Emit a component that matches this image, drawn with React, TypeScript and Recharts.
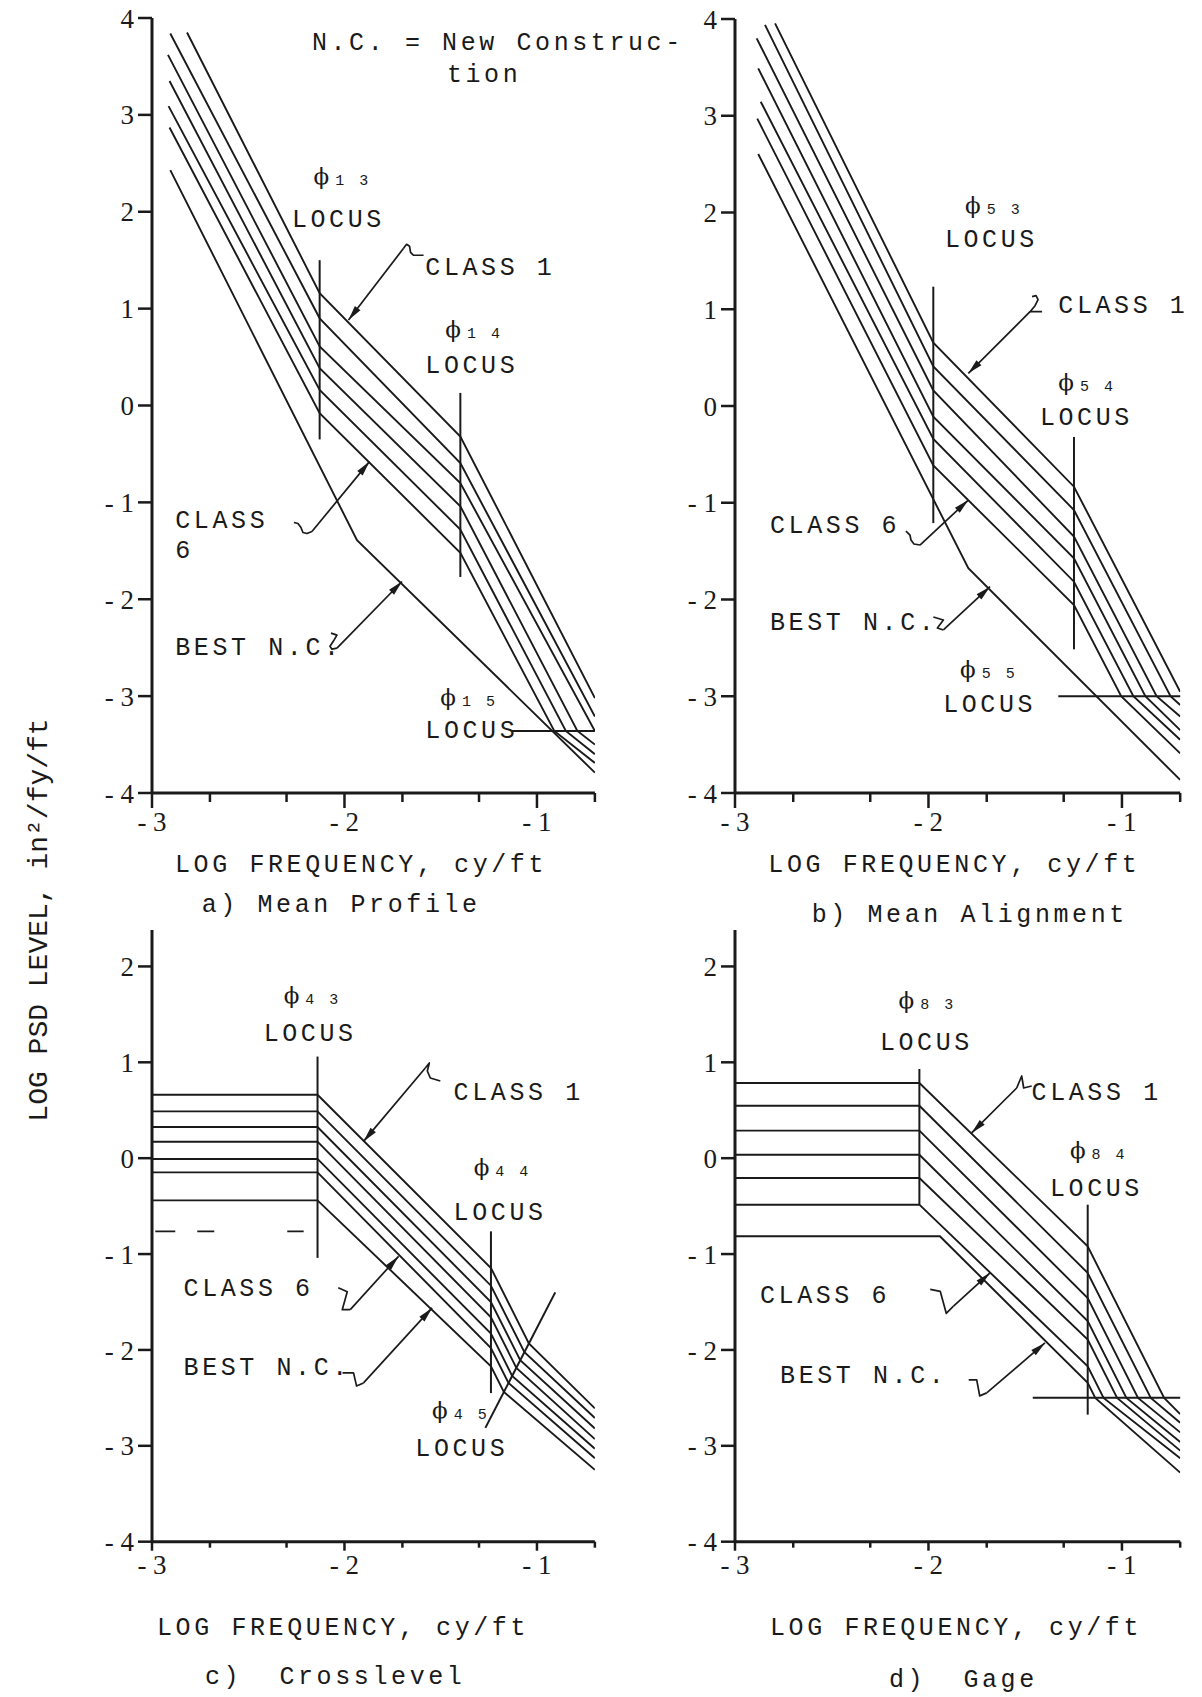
import React from 'react';
import { LineChart, Line, XAxis, YAxis, ReferenceLine, ReferenceDot } from 'recharts';

type P = [number, number];
type Note = { at: P; text: string; phi?: boolean };
type Arrow = { from: P; to: P; hook: P[] };

const ink = '#1a1a1a';
const mono = '"Liberation Mono", monospace';
const serif = '"Liberation Serif", serif';

// log10 of 0.001 .. 0.2 cy/ft
const xTicks = [-3, -2.699, -2.301, -2, -1.699, -1.301, -1, -0.699];
const yTicksUpper = [-4, -3, -2, -1, 0, 1, 2, 3, 4];
const yTicksLower = [-4, -3, -2, -1, 0, 1, 2];

// ---- a) Mean Profile ----
const profileClasses: P[][] = [
  [[-2.818, 3.85], [-2.129, 1.16], [-1.398, -0.32], [-0.699, -3.02]],
  [[-2.905, 3.84], [-2.129, 0.9], [-1.398, -0.595], [-0.699, -3.21]],
  [[-2.917, 3.62], [-2.129, 0.61], [-1.398, -0.8], [-0.699, -3.36]],
  [[-2.909, 3.35], [-2.129, 0.385], [-1.398, -1.04], [-0.79, -3.36], [-0.699, -3.5]],
  [[-2.914, 3.09], [-2.129, 0.16], [-1.398, -1.28], [-0.85, -3.36], [-0.699, -3.6]],
  [[-2.909, 2.87], [-2.129, -0.08], [-1.398, -1.52], [-0.91, -3.36], [-0.699, -3.69]],
];
const profileBest: P[] = [[-2.905, 2.43], [-1.935, -1.39], [-0.699, -3.79]];
const profileLoci: P[][] = [
  [[-2.129, 1.5], [-2.129, -0.35]],
  [[-1.398, 0.13], [-1.398, -1.77]],
  [[-1.13, -3.36], [-0.699, -3.36]],
];

// ---- b) Mean Alignment ----
const alignClasses: P[][] = [
  [[-2.793, 3.955], [-1.975, 0.655], [-1.248, -0.834], [-0.699, -2.953]],
  [[-2.845, 3.94], [-1.975, 0.41], [-1.248, -1.075], [-0.749, -3.0], [-0.699, -3.09]],
  [[-2.888, 3.8], [-1.975, 0.16], [-1.248, -1.35], [-0.821, -3.0], [-0.699, -3.21]],
  [[-2.88, 3.49], [-1.975, -0.11], [-1.248, -1.574], [-0.879, -3.0], [-0.699, -3.35]],
  [[-2.867, 3.145], [-1.975, -0.34], [-1.248, -1.816], [-0.941, -3.0], [-0.699, -3.45]],
  [[-2.885, 2.97], [-1.975, -0.615], [-1.248, -2.057], [-1.004, -3.0], [-0.699, -3.59]],
];
const alignBest: P[] = [[-2.88, 2.605], [-1.794, -1.677], [-0.699, -3.865]];
const alignLoci: P[][] = [
  [[-1.975, 1.233], [-1.975, -1.21]],
  [[-1.248, -0.32], [-1.248, -2.515]],
  [[-1.329, -3.0], [-0.699, -3.0]],
];

// ---- c) Crosslevel ----
const crossClasses: P[][] = [
  [[-3, 0.662], [-2.14, 0.662], [-1.239, -1.145], [-1.042, -1.933], [-0.699, -2.61]],
  [[-3, 0.488], [-2.14, 0.488], [-1.239, -1.33], [-1.065, -2.024], [-0.699, -2.71]],
  [[-3, 0.325], [-2.14, 0.325], [-1.239, -1.5], [-1.087, -2.108], [-0.699, -2.82]],
  [[-3, 0.172], [-2.14, 0.172], [-1.239, -1.66], [-1.107, -2.187], [-0.699, -2.93]],
  [[-3, -0.008], [-2.14, -0.008], [-1.239, -1.83], [-1.129, -2.271], [-0.699, -3.03]],
  [[-3, -0.148], [-2.14, -0.148], [-1.239, -1.98], [-1.148, -2.345], [-0.699, -3.13]],
];
const crossBest: P[] = [[-3, -0.44], [-2.14, -0.44], [-1.239, -2.17], [-1.172, -2.438], [-0.699, -3.25]];
const crossDashed: P[] = [[-2.983, -0.763], [-2.212, -0.763]];
const crossLoci: P[][] = [
  [[-2.14, 1.06], [-2.14, -1.04]],
  [[-1.239, -0.763], [-1.239, -2.45]],
  [[-1.268, -2.813], [-0.905, -1.4]],
];

// ---- d) Gage ----
const gageClasses: P[][] = [
  [[-3, 0.784], [-2.047, 0.784], [-1.177, -0.92], [-0.782, -2.5], [-0.699, -2.67]],
  [[-3, 0.547], [-2.047, 0.547], [-1.177, -1.197], [-0.851, -2.5], [-0.699, -2.76]],
  [[-3, 0.287], [-2.047, 0.287], [-1.177, -1.458], [-0.917, -2.5], [-0.699, -2.86]],
  [[-3, 0.036], [-2.047, 0.036], [-1.177, -1.7], [-0.977, -2.5], [-0.699, -2.96]],
  [[-3, -0.207], [-2.047, -0.207], [-1.177, -1.893], [-1.025, -2.5], [-0.699, -3.05]],
  [[-3, -0.485], [-2.047, -0.485], [-1.177, -2.17], [-1.095, -2.5], [-0.699, -3.13]],
];
const gageBest: P[] = [[-3, -0.815], [-1.941, -0.815], [-1.177, -2.344], [-1.138, -2.5], [-0.699, -3.28]];
const gageLoci: P[][] = [
  [[-2.047, 0.93], [-2.047, -0.485]],
  [[-1.177, -0.485], [-1.177, -2.675]],
  [[-1.461, -2.5], [-0.699, -2.5]],
];

// ---- annotations ----
const profileNotes: Note[] = [
  { at: [-2.169, 3.67], text: 'N.C. = New Construc-' },
  { at: [-1.468, 3.343], text: 'tion' },
  { at: [-2.161, 2.287], text: '1 3', phi: true },
  { at: [-2.273, 1.846], text: 'LOCUS' },
  { at: [-1.58, 1.348], text: 'CLASS 1' },
  { at: [-1.476, 0.711], text: '1 4', phi: true },
  { at: [-1.58, 0.333], text: 'LOCUS' },
  { at: [-2.879, -1.266], text: 'CLASS' },
  { at: [-2.879, -1.576], text: '6' },
  { at: [-2.879, -2.574], text: 'BEST N.C.' },
  { at: [-1.502, -3.09], text: '1 5', phi: true },
  { at: [-1.58, -3.433], text: 'LOCUS' },
];
const profileArrows: Arrow[] = [
  { from: [-1.693, 1.623], to: [-1.979, 0.883], hook: [[0, 0], [3, -4], [6, -2], [7, 4], [10, 7], [20, 7]] },
  { from: [-2.169, -1.301], to: [-1.87, -0.579], hook: [[0, 0], [-5, 2], [-9, 1], [-11, -4], [-14, -8], [-18, -9]] },
  { from: [-2.039, -2.505], to: [-1.701, -1.817], hook: [[0, 0], [-5, 1], [-7, -2], [-3, -8], [0, -13], [-6, -15]] },
];

const alignNotes: Note[] = [
  { at: [-1.811, 1.992], text: '5 3', phi: true },
  { at: [-1.915, 1.647], text: 'LOCUS' },
  { at: [-1.329, 0.958], text: 'CLASS 1' },
  { at: [-1.329, 0.165], text: '5 4', phi: true },
  { at: [-1.424, -0.196], text: 'LOCUS' },
  { at: [-2.819, -1.316], text: 'CLASS 6' },
  { at: [-2.819, -2.315], text: 'BEST N.C.' },
  { at: [-1.837, -2.798], text: '5 5', phi: true },
  { at: [-1.924, -3.16], text: 'LOCUS' },
];
const alignArrows: Arrow[] = [
  { from: [-1.475, 0.975], to: [-1.794, 0.338], hook: [[12, 0], [0, 0], [5, -6], [8, -12], [6, -16], [2, -15]] },
  { from: [-2.044, -1.437], to: [-1.794, -0.972], hook: [[0, 0], [-6, -1], [-9, -5], [-10, -10], [-14, -14]] },
  { from: [-1.923, -2.315], to: [-1.682, -1.868], hook: [[0, 0], [-6, -2], [-3, -6], [0, -10], [-10, -13]] },
];

const crossNotes: Note[] = [
  { at: [-2.316, 1.618], text: '4 3', phi: true },
  { at: [-2.42, 1.218], text: 'LOCUS' },
  { at: [-1.433, 0.61], text: 'CLASS 1' },
  { at: [-1.329, -0.172], text: '4 4', phi: true },
  { at: [-1.433, -0.641], text: 'LOCUS' },
  { at: [-2.836, -1.441], text: 'CLASS 6' },
  { at: [-2.836, -2.258], text: 'BEST N.C.' },
  { at: [-1.545, -2.709], text: '4 5', phi: true },
  { at: [-1.632, -3.109], text: 'LOCUS' },
];
const crossArrows: Arrow[] = [
  { from: [-1.58, 0.941], to: [-1.901, 0.175], hook: [[0, 0], [4, -5], [2, 3], [5, 10], [15, 13]] },
  { from: [-1.97, -1.58], to: [-1.719, -1.024], hook: [[0, 0], [-8, 0], [-3, -18], [-12, -22]] },
  { from: [-1.901, -2.344], to: [-1.545, -1.562], hook: [[0, 0], [-7, 3], [-10, -10], [-21, -10]] },
];

const gageNotes: Note[] = [
  { at: [-2.155, 1.566], text: '8 3', phi: true },
  { at: [-2.251, 1.131], text: 'LOCUS' },
  { at: [-1.467, 0.61], text: 'CLASS 1' },
  { at: [-1.269, 0.002], text: '8 4', phi: true },
  { at: [-1.372, -0.398], text: 'LOCUS' },
  { at: [-2.871, -1.51], text: 'CLASS 6' },
  { at: [-2.767, -2.344], text: 'BEST N.C.' },
];
const gageArrows: Arrow[] = [
  { from: [-1.544, 0.732], to: [-1.777, 0.263], hook: [[0, 0], [5, -12], [7, 0], [15, -2]] },
  { from: [-1.872, -1.545], to: [-1.682, -1.197], hook: [[0, 0], [-7, 7], [-13, -15], [-23, -17]] },
  { from: [-1.699, -2.448], to: [-1.398, -1.927], hook: [[0, 0], [-7, 3], [-10, -13], [-18, -13]] },
];

type Box = { x0: number; x1: number; y0: number; y1: number };
type Spec = {
  box: Box;
  padR: number;
  labelDy: number;
  tickLen: [number, number];
  yDomain: [number, number];
  yTicks: number[];
  lines: P[][];
  dashed?: P[];
  loci: P[][];
  notes: Note[];
  arrows: Arrow[];
};

const panels: Spec[] = [
  { box: { x0: 151.7, x1: 594.6, y0: 18, y1: 793 }, padR: 100, labelDy: 38, tickLen: [15, 9], yDomain: [-4, 4], yTicks: yTicksUpper,
    lines: [...profileClasses, profileBest], loci: profileLoci, notes: profileNotes, arrows: profileArrows },
  { box: { x0: 735, x1: 1180.2, y0: 19, y1: 793 }, padR: 20, labelDy: 38, tickLen: [15, 9], yDomain: [-4, 4], yTicks: yTicksUpper,
    lines: [...alignClasses, alignBest], loci: alignLoci, notes: alignNotes, arrows: alignArrows },
  { box: { x0: 151.7, x1: 594.6, y0: 930.3, y1: 1542 }, padR: 40, labelDy: 32, tickLen: [9, 6], yDomain: [-4, 2.38], yTicks: yTicksLower,
    lines: [...crossClasses, crossBest], dashed: crossDashed, loci: crossLoci, notes: crossNotes, arrows: crossArrows },
  { box: { x0: 735, x1: 1180.2, y0: 930.3, y1: 1542 }, padR: 20, labelDy: 32, tickLen: [9, 6], yDomain: [-4, 2.38], yTicks: yTicksLower,
    lines: [...gageClasses, gageBest], loci: gageLoci, notes: gageNotes, arrows: gageArrows },
];

const captions = [
  { x: 175, y: 871.7, text: 'LOG FREQUENCY, cy/ft' },
  { x: 201.7, y: 911.7, text: 'a) Mean Profile' },
  { x: 768.3, y: 871.7, text: 'LOG FREQUENCY, cy/ft' },
  { x: 811.7, y: 921.7, text: 'b) Mean Alignment' },
  { x: 157, y: 1635, text: 'LOG FREQUENCY, cy/ft' },
  { x: 205, y: 1684, text: 'c)  Crosslevel' },
  { x: 770, y: 1635, text: 'LOG FREQUENCY, cy/ft' },
  { x: 889, y: 1687, text: 'd)  Gage' },
];

const fmt = (v: number) => (v < 0 ? `- ${-v}` : `${v}`);
const toPts = (l: P[]) => l.map(([x, y]) => ({ x, y }));

const XTick = (props: any) => {
  const { x, y, payload, labelDy, tickLen } = props;
  const v = payload.value as number;
  const major = Math.abs(v - Math.round(v)) < 1e-6;
  return (
    <g>
      <line x1={x} x2={x} y1={y} y2={y + (major ? tickLen[0] : tickLen[1])} stroke={ink} strokeWidth={2.5} />
      {major && (
        <text x={x} y={y + labelDy} textAnchor="middle" fontFamily={serif} fontSize={27} fill={ink}>
          {fmt(v)}
        </text>
      )}
    </g>
  );
};

const noteShape = (n: Note) => (p: any) =>
  n.phi ? (
    <text x={p.cx} y={p.cy} fontFamily='"DejaVu Serif", serif' fontSize={23} fill={ink}>
      ϕ
      <tspan fontFamily={mono} fontSize={15} dx={6} dy={1} letterSpacing={3}>
        {n.text}
      </tspan>
    </text>
  ) : (
    <text x={p.cx} y={p.cy} fontFamily={mono} fontSize={25} letterSpacing={3.6} fill={ink} xmlSpace="preserve">
      {n.text}
    </text>
  );

const arrowShape = (hook: P[]) => (p: any) => {
  const { x1, y1, x2, y2 } = p;
  const dx = x2 - x1;
  const dy = y2 - y1;
  const len = Math.hypot(dx, dy) || 1;
  const ux = dx / len;
  const uy = dy / len;
  const hl = 15;
  const hw = 3.5;
  const bx = x2 - ux * hl;
  const by = y2 - uy * hl;
  const head = `${x2},${y2} ${bx - uy * hw},${by + ux * hw} ${bx + uy * hw},${by - ux * hw}`;
  const hookPts = hook.map(([hx, hy]) => `${x1 + hx},${y1 + hy}`).join(' ');
  return (
    <g>
      <line x1={x1} y1={y1} x2={x2} y2={y2} stroke={ink} strokeWidth={1.7} />
      <polygon points={head} fill={ink} />
      <polyline points={hookPts} fill="none" stroke={ink} strokeWidth={1.7} strokeLinejoin="round" />
    </g>
  );
};

const padL = 110;
const padT = 20;
const padB = 60;
const XH = 50;
const YW = 60;

function Panel({ spec }: { spec: Spec }) {
  const { box } = spec;
  const width = box.x1 - box.x0 + padL + spec.padR;
  const height = box.y1 - box.y0 + padT + padB;
  const axisStyle = { stroke: ink, strokeWidth: 3 };
  return (
    <div style={{ position: 'absolute', left: box.x0 - padL, top: box.y0 - padT }}>
      <LineChart
        width={width}
        height={height}
        margin={{ top: padT, right: spec.padR, bottom: padB - XH, left: padL - YW }}
      >
        <XAxis
          type="number"
          dataKey="x"
          domain={[-3, -0.699]}
          ticks={xTicks}
          interval={0}
          height={XH}
          allowDataOverflow
          tickLine={false}
          tickSize={0}
          tickMargin={0}
          axisLine={axisStyle}
          tick={(p: any) => <XTick {...p} labelDy={spec.labelDy} tickLen={spec.tickLen} />}
        />
        <YAxis
          type="number"
          domain={spec.yDomain}
          ticks={spec.yTicks}
          interval={0}
          width={YW}
          allowDataOverflow
          tickSize={14}
          tickMargin={4}
          tickLine={{ stroke: ink, strokeWidth: 2.5 }}
          axisLine={axisStyle}
          tick={{ fill: ink, fontSize: 27, fontFamily: serif }}
          tickFormatter={fmt}
        />
        {spec.lines.map((l, i) => (
          <Line
            key={`l${i}`}
            data={toPts(l)}
            dataKey="y"
            type="linear"
            dot={false}
            stroke={ink}
            strokeWidth={1.9}
            isAnimationActive={false}
          />
        ))}
        {spec.dashed && (
          <Line
            data={toPts(spec.dashed)}
            dataKey="y"
            type="linear"
            dot={false}
            stroke={ink}
            strokeWidth={1.9}
            strokeDasharray="20 22 17 73 17"
            isAnimationActive={false}
          />
        )}
        {spec.loci.map((l, i) => (
          <ReferenceLine
            key={`k${i}`}
            segment={toPts(l)}
            stroke={ink}
            strokeWidth={2}
            ifOverflow="visible"
          />
        ))}
        {spec.arrows.map((a, i) => (
          <ReferenceLine
            key={`a${i}`}
            segment={[{ x: a.from[0], y: a.from[1] }, { x: a.to[0], y: a.to[1] }]}
            ifOverflow="visible"
            shape={arrowShape(a.hook)}
          />
        ))}
        {spec.notes.map((n, i) => (
          <ReferenceDot
            key={`n${i}`}
            x={n.at[0]}
            y={n.at[1]}
            r={1}
            ifOverflow="visible"
            shape={noteShape(n)}
          />
        ))}
      </LineChart>
    </div>
  );
}

export default function App() {
  return (
    <div style={{ position: 'absolute', left: 0, top: 0, width: 1202, height: 1697, background: '#fff' }}>
      <svg width={1202} height={1697} style={{ position: 'absolute', left: 0, top: 0 }}>
        <text
          x={47}
          y={920}
          transform="rotate(-90 47 920)"
          textAnchor="middle"
          fontFamily={mono}
          fontSize={28}
          fill={ink}
        >
          LOG PSD LEVEL, in²/fy/ft
        </text>
        {captions.map((c, i) => (
          <text key={i} x={c.x} y={c.y} fontFamily={mono} fontSize={25} letterSpacing={3.6} fill={ink} xmlSpace="preserve">
            {c.text}
          </text>
        ))}
      </svg>
      {panels.map((s, i) => (
        <Panel key={i} spec={s} />
      ))}
    </div>
  );
}
